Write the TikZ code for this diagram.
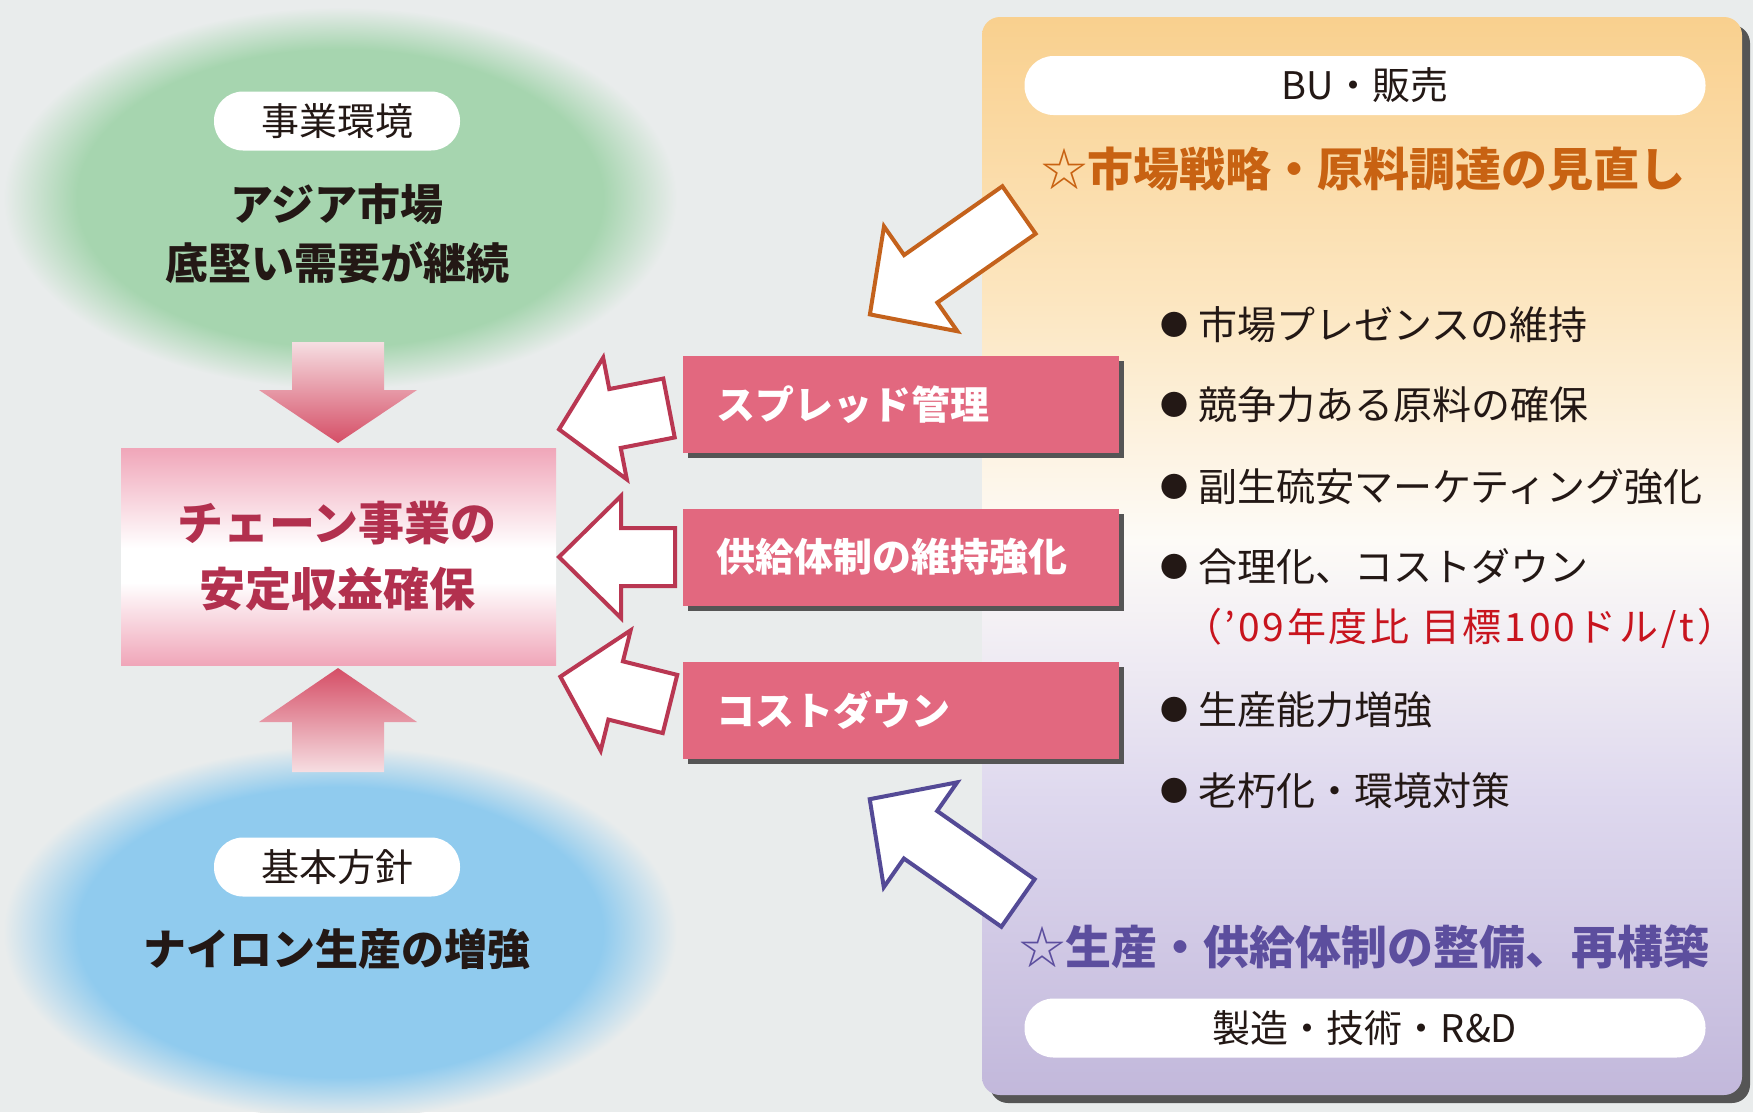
\documentclass[tikz,border=0pt]{standalone}
\usepackage{fontspec}
\newfontfamily\jp{Noto Sans CJK JP}
\usetikzlibrary{shadows}
\definecolor{bgc}{RGB}{233,236,236}
\definecolor{gfill}{RGB}{166,213,175}
\definecolor{bfill}{RGB}{144,203,238}
\definecolor{pinkbox}{RGB}{226,104,127}
\definecolor{crim}{RGB}{185,55,82}
\definecolor{ctext}{RGB}{178,48,78}
\definecolor{orgtext}{RGB}{200,98,18}
\definecolor{orgline}{RGB}{196,98,28}
\definecolor{purtext}{RGB}{92,78,158}
\definecolor{purline}{RGB}{84,74,150}
\definecolor{redtext}{RGB}{200,20,30}
\definecolor{ptop}{RGB}{249,208,142}
\definecolor{pmidA}{RGB}{252,230,192}
\definecolor{pwhite}{RGB}{253,251,247}
\definecolor{pmidB}{RGB}{222,216,238}
\definecolor{pbot}{RGB}{194,184,219}
\definecolor{boxpink}{RGB}{240,166,185}
\definecolor{arrdark}{RGB}{213,78,102}
\definecolor{arrlight}{RGB}{246,222,226}
\definecolor{txt}{RGB}{35,24,21}
\definecolor{shadowc}{RGB}{85,85,85}
\pgfdeclareradialshading{greenblob}{\pgfpoint{0bp}{0bp}}{color(0bp)=(gfill); color(19.5bp)=(gfill); color(25bp)=(bgc); color(50bp)=(bgc)}
\pgfdeclareradialshading{blueblob}{\pgfpoint{0bp}{0bp}}{color(0bp)=(bfill); color(19.5bp)=(bfill); color(25bp)=(bgc); color(50bp)=(bgc)}
\pgfdeclareverticalshading{panelshade}{100bp}{color(0bp)=(pbot); color(25bp)=(pbot); color(38.7bp)=(pmidB); color(50.7bp)=(pwhite); color(61.9bp)=(pmidA); color(75bp)=(ptop); color(100bp)=(ptop)}
\pgfdeclareverticalshading{goalshade}{100bp}{color(0bp)=(boxpink); color(25bp)=(boxpink); color(44bp)=(white); color(52bp)=(white); color(75bp)=(boxpink); color(100bp)=(boxpink)}
\newcommand\fatarr[8]{% style, tail x, tail y, angle, length, head length, head half width, shaft half width
  \begin{scope}[shift={(#2,#3)},rotate=#4]
    \draw[#1] (0,-#8) -- ({#5-#6},-#8) -- ({#5-#6},-#7) -- (#5,0) -- ({#5-#6},#7) -- ({#5-#6},#8) -- (0,#8) -- cycle;
  \end{scope}}
\newcommand\bulmark{\raisebox{4pt}{\fontsize{28}{28}\selectfont ●}\hspace{10pt}}
\tikzset{
  pill/.style={fill=white, rounded corners=29pt, minimum width=#1, minimum height=59pt, inner sep=0pt, text=txt, font=\jp\fontsize{38}{40}\selectfont},
  bigblack/.style={align=center, inner sep=0pt, text=txt, font=\jp\bfseries\fontsize{43}{59}\selectfont},
  goaltext/.style={align=center, inner sep=0pt, text=ctext, font=\jp\bfseries\fontsize{46}{66}\selectfont},
  pbox/.style={fill=pinkbox, minimum width=436pt, minimum height=97pt, inner sep=0pt, drop shadow={shadow xshift=5pt, shadow yshift=-5pt, fill=shadowc, opacity=1}},
  ptext/.style={anchor=west, inner sep=0pt, text=white, font=\jp\bfseries\fontsize{39}{41}\selectfont},
  bul/.style={anchor=west, inner sep=0pt, text=txt, font=\jp\fontsize{39}{41}\selectfont},
  redl/.style={anchor=west, inner sep=0pt, text=redtext, font=\jp\addfontfeatures{LetterSpace=7}\fontsize{39}{41}\selectfont},
  headA/.style={inner sep=0pt, text=orgtext, font=\jp\bfseries\fontsize{46}{48}\selectfont},
  headB/.style={inner sep=0pt, text=purtext, font=\jp\bfseries\fontsize{46}{48}\selectfont},
  crimarrow/.style={fill=white, draw=crim, line width=4pt, line join=miter},
  orgarrow/.style={fill=white, draw=orgline, line width=4pt, line join=miter},
  purarrow/.style={fill=white, draw=purline, line width=4pt, line join=miter},
}
\begin{document}
\begin{tikzpicture}[x=1pt,y=-1pt]
\useasboundingbox (0,0) rectangle (1753,1112);
\fill[bgc] (0,0) rectangle (1753,1112);
% blurred ellipses
\shade[shading=greenblob] (340,198) ellipse [x radius=337pt, y radius=191pt];
\shade[shading=blueblob] (340,932) ellipse [x radius=337pt, y radius=186pt];
% right panel
\fill[shadowc, rounded corners=18pt] (990,25) rectangle (1750,1103);
\shade[shading=panelshade, rounded corners=18pt] (982,17) rectangle (1742,1095);
% left column
\node[pill=246pt] (env) at (337,121) {事業環境};
\node[bigblack] (envt) at (337,233.5) {アジア市場\\底堅い需要が継続};
\node[pill=246pt] (pol) at (337,867) {基本方針};
\node[bigblack] (polt) at (337,949) {ナイロン生産の増強};
\shade[top color=arrlight, bottom color=arrdark] (292,342) -- (384,342) -- (384,390) -- (417,390) -- (338,443) -- (259,390) -- (292,390) -- cycle;
\shade[top color=arrdark, bottom color=arrlight] (338,668) -- (417,722) -- (384,722) -- (384,772) -- (292,772) -- (292,722) -- (259,722) -- cycle;
\shade[shading=goalshade] (121,448) rectangle (556,665);
\node[goaltext] (goal) at (337,556) {チェーン事業の\\安定収益確保};
% pink boxes
\node[pbox] (s1) at (901,404.5) {};
\node[ptext] (s1t) at (716,404.5) {スプレッド管理};
\node[pbox] (s2) at (901,557) {};
\node[ptext] (s2t) at (716,557) {供給体制の維持強化};
\node[pbox] (s3) at (901,710) {};
\node[ptext] (s3t) at (716,710) {コストダウン};
% white arrows
\fatarr{crimarrow}{669}{408}{191}{112}{57}{62}{30}
\fatarr{crimarrow}{675}{557}{180}{116}{62}{61}{29}
\fatarr{crimarrow}{670}{704}{166}{113}{57}{62}{30}
\fatarr{orgarrow}{1019}{210}{215}{182}{62}{64}{29}
\fatarr{purarrow}{1018}{903}{145}{181}{62}{64}{29}
% right panel content
\node[pill=681pt] (bu) at (1365,85.5) {BU・販売};
\node[headA] (hA) at (1363.5,169) {{\mdseries ☆}市場戦略・原料調達の見直し};
\node[bul] (b1) at (1160,325) {\bulmark 市場プレゼンスの維持};
\node[bul] (b2) at (1160,405) {\bulmark 競争力ある原料の確保};
\node[bul] (b3) at (1160,487) {\bulmark 副生硫安マーケティング強化};
\node[bul] (b4) at (1160,567) {\bulmark 合理化、コストダウン};
\node[redl] (b4r) at (1183,628) {（’09年度比 目標100ドル/t）};
\node[bul] (b5) at (1160,710) {\bulmark 生産能力増強};
\node[bul] (b6) at (1160,791) {\bulmark 老朽化・環境対策};
\node[headB] (hB) at (1364.5,947) {{\mdseries ☆}生産・供給体制の整備、再構築};
\node[pill=681pt] (mfg) at (1365,1028) {製造・技術・R\&D};
\end{tikzpicture}
\end{document}
